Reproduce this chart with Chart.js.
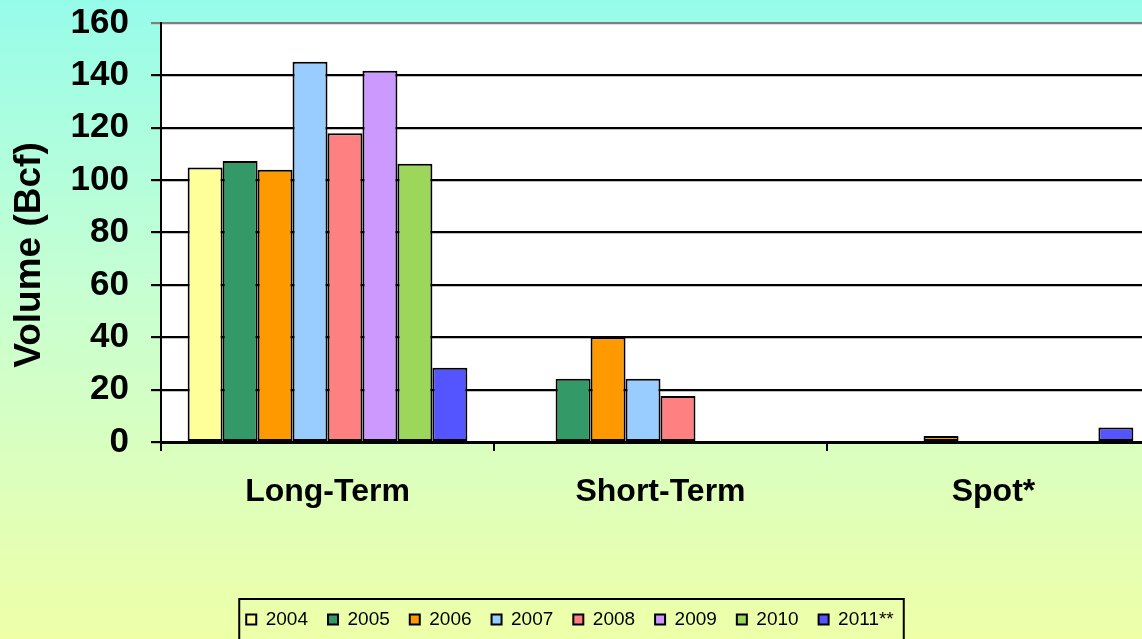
<!DOCTYPE html>
<html>
<head>
<meta charset="utf-8">
<script src="https://cdn.jsdelivr.net/npm/chart.js@4/dist/chart.umd.min.js"></script>
<style>
html,body{margin:0;padding:0;overflow:hidden;width:1142px;height:639px;}
body{background:linear-gradient(to bottom,#96FCEA 0%,#C6FFD2 45%,#DDFFBC 75%,#EEFFA8 100%);}
#wrap{position:absolute;left:0;top:0;width:1160px;height:639px;}
</style>
</head>
<body>
<div id="wrap"><canvas id="c" width="1160" height="639"></canvas></div>
<script>
const categories = ['Long-Term', 'Short-Term', 'Spot*'];
const seriesNames = ['2004', '2005', '2006', '2007', '2008', '2009', '2010', '2011**'];
const v2004 = [104.8, null, null];
const v2005 = [107.3, 24.2, null];
const v2006 = [104.0, 40.0, 2.3];
const v2007 = [145.2, 24.2, null];
const v2008 = [117.9, 17.6, null];
const v2009 = [141.8, null, null];
const v2010 = [106.3, null, null];
const v2011 = [28.4, null, 5.5];
const yTicks = [0, 20, 40, 60, 80, 100, 120, 140, 160];
const yTitle = 'Volume (Bcf)';

const seriesValues = [v2004, v2005, v2006, v2007, v2008, v2009, v2010, v2011];
const colors = ['#FFFF99', '#339966', '#FF9900', '#99CCFF', '#FF8080', '#CC99FF', '#9CD65A', '#5555FF'];
const FONT = 'Liberation Sans, Arial, sans-serif';

const plotBg = {
  id: 'plotBg',
  afterLayout(chart) {
    const lg = chart.legend;
    if (lg) { lg.left -= 10; lg.right -= 10; }
  },
  beforeDraw(chart) {
    const a = chart.chartArea, ctx = chart.ctx;
    ctx.save();
    ctx.fillStyle = '#FFFFFF';
    ctx.fillRect(a.left, a.top, a.right - a.left, a.bottom - a.top);
    ctx.restore();
  },
  afterDraw(chart) {
    const ctx = chart.ctx;
    // y axis title
    ctx.save();
    ctx.translate(30, 255);
    ctx.rotate(-Math.PI / 2);
    ctx.fillStyle = '#000';
    ctx.font = 'bold 37px ' + FONT;
    ctx.textAlign = 'center';
    ctx.textBaseline = 'middle';
    ctx.fillText(yTitle, 0, 0);
    ctx.restore();
    // legend frame
    const lg = chart.legend;
    if (!lg || !lg.lineWidths) return;
    const w = lg.lineWidths[0];
    const cx = (lg.left + lg.right) / 2;
    ctx.save();
    ctx.strokeStyle = '#000';
    ctx.lineWidth = 2;
    ctx.strokeRect(cx - w / 2 + 3, 599, w - 3, 60);
    ctx.restore();
  }
};

new Chart(document.getElementById('c'), {
  type: 'bar',
  data: {
    labels: categories,
    datasets: seriesNames.map((n, i) => ({
      label: n,
      data: seriesValues[i],
      backgroundColor: colors[i],
      borderColor: '#000000',
      borderWidth: 2,
      borderSkipped: false,
      barPercentage: 1.0,
      categoryPercentage: 0.84
    }))
  },
  options: {
    responsive: false,
    animation: false,
    devicePixelRatio: 1,
    layout: { padding: { top: 23, right: 0, bottom: 0, left: 0 } },
    plugins: {
      tooltip: { enabled: false },
      legend: {
        position: 'bottom',
        labels: {
          color: '#000',
          font: { family: FONT, size: 19 },
          boxWidth: 10,
          boxHeight: 10,
          padding: 20,
          useBorderRadius: false
        }
      }
    },
    scales: {
      x: {
        offset: true,
        grid: { display: true, drawOnChartArea: false, offset: true, color: '#000', lineWidth: 2, tickLength: 9 },
        border: { display: true, color: '#000', width: 3 },
        ticks: { color: '#000', padding: 22, font: { family: FONT, size: 32, weight: 'bold' } },
        afterFit(s) { s.height = 148; s.paddingLeft = 0; s.paddingRight = 0; }
      },
      y: {
        min: 0,
        max: 160,
        afterBuildTicks(s) { s.ticks = yTicks.map(v => ({ value: v })); },
        grid: {
          color: ctx => (ctx.tick && ctx.tick.value === 160) ? '#808080' : '#000000',
          lineWidth: 2.2,
          tickLength: 10
        },
        border: { display: true, color: '#000', width: 2 },
        ticks: { color: '#000', padding: 22, font: { family: FONT, size: 35, weight: 'bold' } },
        title: { display: false, text: yTitle },
        afterFit(s) { s.width = 161; s.paddingTop = 0; s.paddingBottom = 0; }
      }
    }
  },
  plugins: [plotBg]
});
</script>
</body>
</html>
